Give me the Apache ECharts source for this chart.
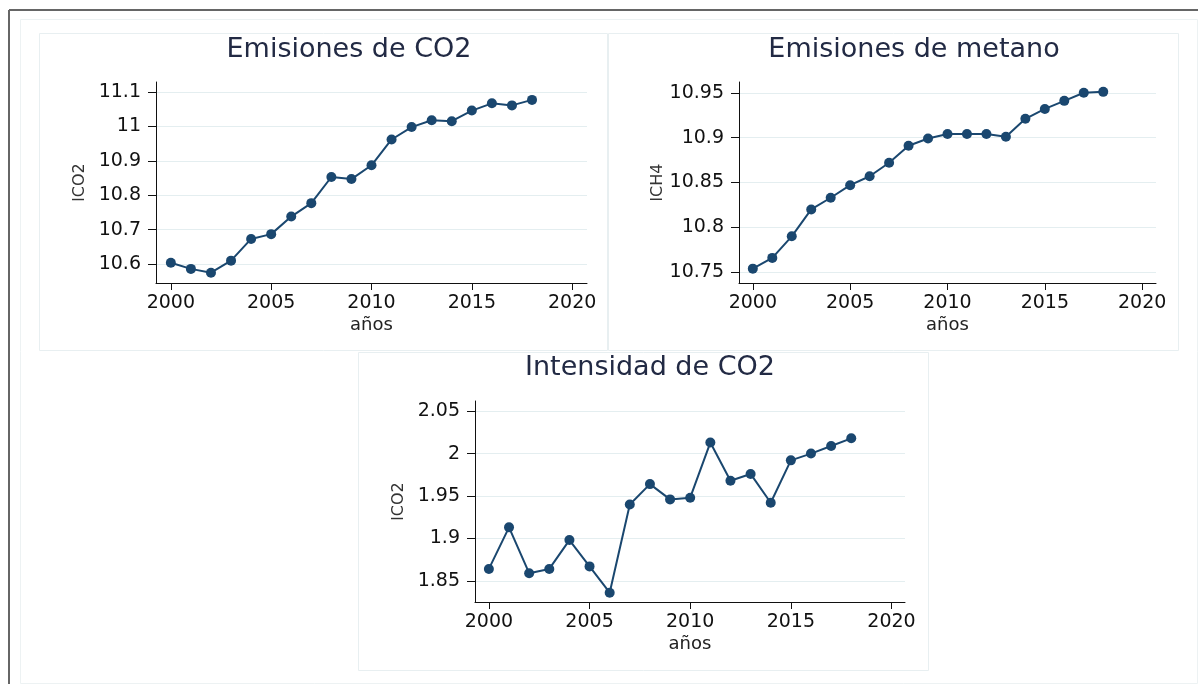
<!DOCTYPE html>
<html>
<head>
<meta charset="utf-8">
<title>Emisiones</title>
<script src="https://cdn.jsdelivr.net/npm/echarts@6/dist/echarts.min.js"></script>
<style>
  html, body { margin: 0; padding: 0; background: #fff; }
  #chart { width: 1198px; height: 684px; }
</style>
</head>
<body>
<div id="chart"></div>
<script>
  var years = [2000, 2001, 2002, 2003, 2004, 2005, 2006, 2007, 2008, 2009,
               2010, 2011, 2012, 2013, 2014, 2015, 2016, 2017, 2018];
  var lco2 = [10.604, 10.586, 10.575, 10.610, 10.673, 10.687, 10.738, 10.777, 10.853, 10.847,
              10.887, 10.962, 10.998, 11.018, 11.015, 11.046, 11.067, 11.061, 11.077];
  var lch4 = [10.754, 10.766, 10.790, 10.820, 10.833, 10.847, 10.857, 10.872, 10.891, 10.899,
              10.904, 10.904, 10.904, 10.901, 10.921, 10.932, 10.941, 10.950, 10.951];
  var intensidad = [1.864, 1.913, 1.859, 1.864, 1.898, 1.867, 1.836, 1.940, 1.964, 1.946,
                    1.948, 2.013, 1.968, 1.976, 1.942, 1.992, 2.000, 2.009, 2.018];
  var xTicks = [2000, 2005, 2010, 2015, 2020];
  var yTicksCO2 = [10.6, 10.7, 10.8, 10.9, 11, 11.1];
  var yTicksCH4 = [10.75, 10.8, 10.85, 10.9, 10.95];
  var yTicksInt = [1.85, 1.9, 1.95, 2, 2.05];

  var FONT = '"DejaVu Sans", "Liberation Sans", Arial, sans-serif';
  var NAVY = '#1a476f';

  function pairs(ys) {
    return years.map(function (y, i) { return [y, ys[i]]; });
  }

  // plain number, no thousands separator
  function plain(v) { return String(v); }

  function xAxisFor(idx, min, max) {
    return {
      type: 'value', gridIndex: idx, min: min, max: max,
      name: 'años', nameLocation: 'middle', nameGap: 33,
      nameTextStyle: { fontFamily: FONT, fontSize: 18, color: '#222' },
      axisLine: { show: true, lineStyle: { color: '#111', width: 1 } },
      axisTick: { show: true, length: 7, customValues: xTicks, lineStyle: { color: '#111' } },
      axisLabel: { customValues: xTicks, formatter: plain, margin: 11,
                   fontFamily: FONT, fontSize: 19, color: '#111' },
      splitLine: { show: false }
    };
  }

  function yAxisFor(idx, name, min, max, ticks) {
    return {
      type: 'value', gridIndex: idx, min: min, max: max,
      name: name, nameLocation: 'middle', nameGap: 68, nameRotate: 90,
      nameTextStyle: { fontFamily: FONT, fontSize: 16, color: '#333' },
      axisLine: { show: true, lineStyle: { color: '#111', width: 1 } },
      axisTick: { show: true, length: 8, customValues: ticks, lineStyle: { color: '#111' } },
      axisLabel: { customValues: ticks, formatter: plain, margin: 15,
                   fontFamily: FONT, fontSize: 19, color: '#111' },
      splitLine: { show: true, lineStyle: { color: '#e4eef0', width: 1 } }
    };
  }

  function lineSeries(idx, ys) {
    return {
      type: 'line', xAxisIndex: idx, yAxisIndex: idx,
      data: pairs(ys),
      symbol: 'circle', symbolSize: 10, showSymbol: true,
      lineStyle: { color: NAVY, width: 2 },
      itemStyle: { color: NAVY },
      animation: false
    };
  }

  function titleText(x, y, text) {
    return {
      type: 'text', x: x, y: y, silent: true,
      style: { text: text, fill: '#222a44', font: '27px ' + FONT,
               textAlign: 'center', textVerticalAlign: 'middle' }
    };
  }

  function panel(x, y, w, h, color) {
    return {
      type: 'rect', silent: true, z: -10,
      shape: { x: x, y: y, width: w, height: h },
      style: { fill: 'none', stroke: color, lineWidth: 1 }
    };
  }

  var chart = echarts.init(document.getElementById('chart'));
  var option = {
    backgroundColor: '#fff',
    animation: false,
    grid: [
      { left: 156, top: 82, width: 431, height: 201 },
      { left: 739, top: 82, width: 417, height: 201 },
      { left: 475, top: 401, width: 430, height: 201 }
    ],
    xAxis: [
      xAxisFor(0, 1999.26, 2020.74),
      xAxisFor(1, 1999.29, 2020.71),
      xAxisFor(2, 1999.31, 2020.67)
    ],
    yAxis: [
      yAxisFor(0, 'lCO2', 10.545, 11.129, yTicksCO2),
      yAxisFor(1, 'lCH4', 10.738, 10.962, yTicksCH4),
      yAxisFor(2, 'lCO2', 1.825, 2.062, yTicksInt)
    ],
    series: [
      lineSeries(0, lco2),
      lineSeries(1, lch4),
      lineSeries(2, intensidad)
    ],
    graphic: [
      { type: 'line', silent: true, shape: { x1: 9, y1: 10, x2: 1198, y2: 10 },
        style: { stroke: '#666', lineWidth: 2 } },
      { type: 'line', silent: true, shape: { x1: 9, y1: 10, x2: 9, y2: 684 },
        style: { stroke: '#666', lineWidth: 2 } },
      panel(20.5, 19.5, 1177, 664, '#edf2f3'),
      panel(39.5, 33.5, 568, 317, '#e8eff1'),
      panel(608.5, 33.5, 570, 317, '#e8eff1'),
      panel(358.5, 352.5, 570, 318, '#e8eff1'),
      titleText(349, 50, 'Emisiones de CO2'),
      titleText(914, 50, 'Emisiones de metano'),
      titleText(650, 368, 'Intensidad de CO2')
    ]
  };
  chart.setOption(option);
</script>
</body>
</html>
